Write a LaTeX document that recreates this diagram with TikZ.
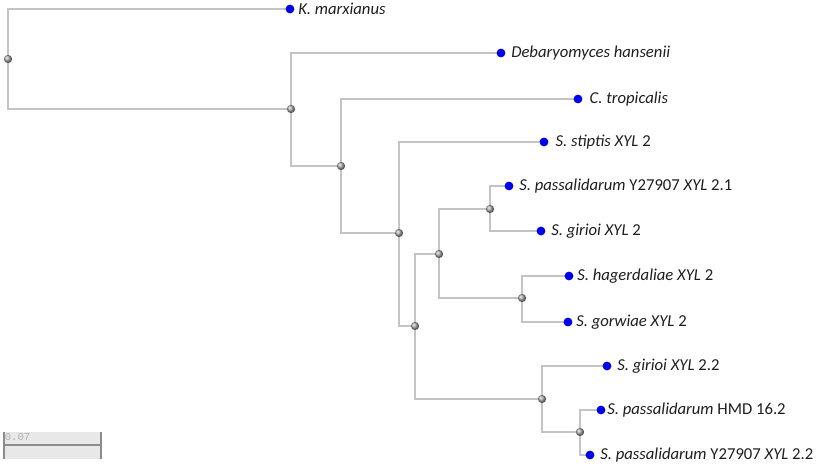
\documentclass[tikz,border=0pt]{standalone}
\usepackage{fontspec}
\setmainfont{Carlito}
\setmonofont{Liberation Mono}
\usetikzlibrary{positioning, backgrounds}
\definecolor{treeline}{RGB}{196,196,196}
\definecolor{leafblue}{RGB}{0,0,235}
\definecolor{labelink}{RGB}{30,30,30}
\definecolor{barfill}{RGB}{232,232,232}
\definecolor{barline}{RGB}{140,140,140}

\tikzset{
  inner/.style={circle, inner sep=0pt, minimum size=6.2pt, shading=ball, ball color=gray!70},
  leaf/.style={circle, fill=leafblue, inner sep=0pt, minimum size=6.6pt},
  branch/.style={draw=treeline, line width=0.8pt},
  taxon/.style={inner sep=0pt, text=labelink, font=\fontsize{12.5}{14}\selectfont\itshape}
}

\begin{document}
\begin{tikzpicture}[x=0.75pt, y=-0.75pt]
        \useasboundingbox (0,0) rectangle (818,465);
        % innere Knoten
        \node[inner] (root) at (8,59) {};
        \node[inner] (n1) at (291,109) {};
        \node[inner] (n2) at (341,166) {};
        \node[inner] (n3) at (399,233) {};
        \node[inner] (n4) at (415,326) {};
        \node[inner] (n5) at (439,254) {};
        \node[inner] (n6) at (490,209) {};
        \node[inner] (n7) at (522,298) {};
        \node[inner] (n8) at (542,399) {};
        \node[inner] (n9) at (580,432) {};
        % Blaetter
        \node[leaf] (kmar) at (290,9) {};
        \node[leaf] (dhan) at (501,53) {};
        \node[leaf] (ctro) at (578,99) {};
        \node[leaf] (ssti) at (544,142) {};
        \node[leaf] (spas1) at (509,186) {};
        \node[leaf] (sgir) at (541,231) {};
        \node[leaf] (shag) at (569,276) {};
        \node[leaf] (sgor) at (568,322) {};
        \node[leaf] (sgir2) at (607,366) {};
        \node[leaf] (spas2) at (601,410) {};
        \node[leaf] (spas3) at (590,455) {};
        % Beschriftung
        \node[taxon, right=2.5pt of kmar] {K. marxianus};
        \node[taxon, right=4pt of dhan] {Debaryomyces hansenii};
        \node[taxon, right=5pt of ctro] {C. tropicalis};
        \node[taxon, right=5pt of ssti] {S. stiptis XYL \upshape 2};
        \node[taxon, right=4pt of spas1] {S. passalidarum \upshape Y27907 \itshape XYL \upshape 2.1};
        \node[taxon, right=4pt of sgir] {S. girioi XYL \upshape 2};
        \node[taxon, right=2.5pt of shag] {S. hagerdaliae XYL \upshape 2};
        \node[taxon, right=2.5pt of sgor] {S. gorwiae XYL \upshape 2};
        \node[taxon, right=4pt of sgir2] {S. girioi XYL \upshape 2.2};
        \node[taxon, right=1pt of spas2] {S. passalidarum \upshape HMD 16.2};
        \node[taxon, right=4pt of spas3] {S. passalidarum \upshape Y27907 \itshape XYL \upshape 2.2};
        % Aeste
        \begin{scope}[on background layer]
          \foreach \p/\c in {root/kmar, root/n1, n1/dhan, n1/n2, n2/ctro, n2/n3,
                             n3/ssti, n3/n4, n4/n5, n4/n8, n5/n6, n5/n7,
                             n6/spas1, n6/sgir, n7/shag, n7/sgor,
                             n8/sgir2, n8/n9, n9/spas2, n9/spas3}
            \draw[branch] (\p.center) |- (\c.center);
        \end{scope}
        % Massstab
        \fill[barfill] (3,432) rectangle (102,459);
        \draw[barline, line width=1.2pt] (4,445) -- (101,445);
        \draw[barline, line width=0.9pt] (4,432) -- (4,459) (101,432) -- (101,459);
        \node[anchor=north west, inner sep=0pt, text=gray!60, font=\ttfamily\fontsize{8}{9}\selectfont] (scalelabel) at (4.5,433) {0.07};
      \end{tikzpicture}
\end{document}
